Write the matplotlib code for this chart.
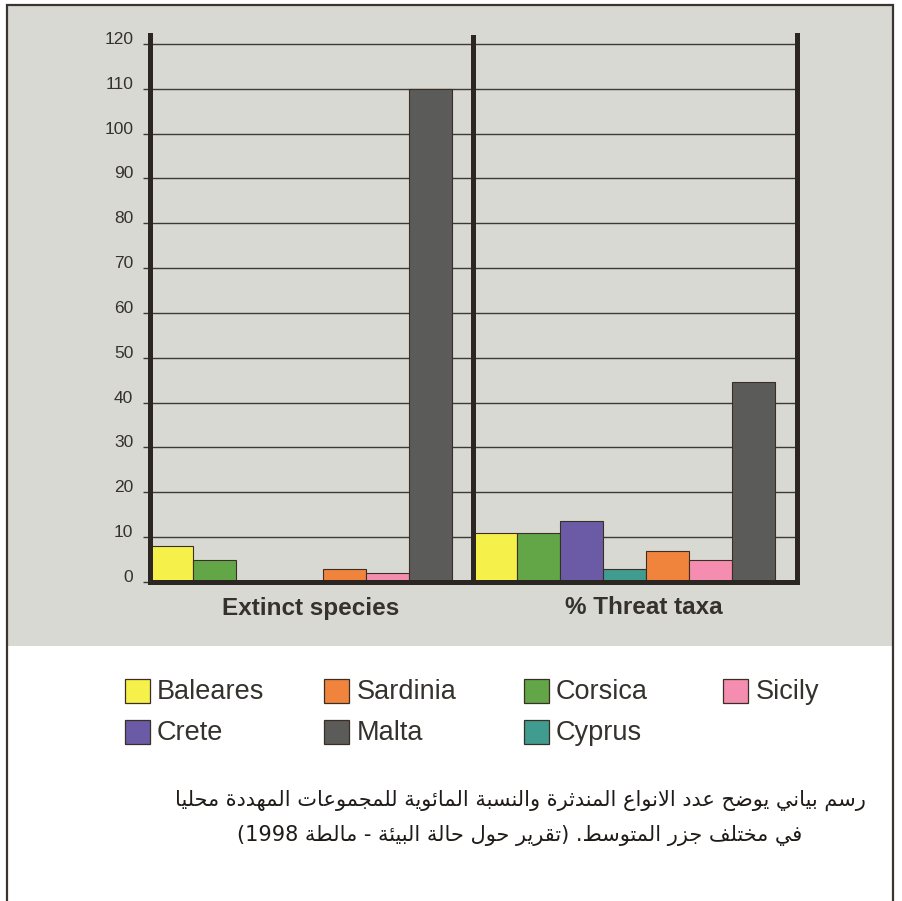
import re
import matplotlib
matplotlib.use("Agg")
import matplotlib.pyplot as plt
import matplotlib.transforms as mtransforms
from matplotlib.patches import Rectangle

# ---------------- data ----------------
groups = ["Extinct species", "% Threat taxa"]
islands = ["Baleares", "Corsica", "Crete", "Cyprus", "Sardinia", "Sicily", "Malta"]
extinct = [8, 5, 0, 0, 3, 2, 110]
threat = [11, 11, 13.5, 3, 7, 5, 44.5]
yticks = list(range(0, 121, 10))
legend_rows = [["Baleares", "Sardinia", "Corsica", "Sicily"],
               ["Crete", "Malta", "Cyprus"]]
caption_lines = [
    "رسم بياني يوضح عدد الانواع المندثرة والنسبة المائوية للمجموعات المهددة محليا",
    "في مختلف جزر المتوسط. (تقرير حول حالة البيئة - مالطة 1998)",
]

# ---------------- styles ----------------
colors = {
    "Baleares": "#f6f14a",
    "Corsica": "#62a648",
    "Crete": "#6b5ba6",
    "Cyprus": "#3f9c8e",
    "Sardinia": "#f0843c",
    "Sicily": "#f48db0",
    "Malta": "#5b5b59",
}
PANEL = "#d9d9d3"
DARK = "#2b2622"
TEXT = "#35312d"
LATIN = ["Liberation Sans", "DejaVu Sans"]

W, H = 903, 901


def fx(px):
    return px / W


def fy(py):
    return 1 - py / H


# ------------- minimal Arabic shaping (matplotlib has no shaper) -------------
_AR = {
    "ء": (0xFE80, 1), "آ": (0xFE81, 2), "أ": (0xFE83, 2), "ؤ": (0xFE85, 2),
    "إ": (0xFE87, 2), "ئ": (0xFE89, 4), "ا": (0xFE8D, 2), "ب": (0xFE8F, 4),
    "ة": (0xFE93, 2), "ت": (0xFE95, 4), "ث": (0xFE99, 4), "ج": (0xFE9D, 4),
    "ح": (0xFEA1, 4), "خ": (0xFEA5, 4), "د": (0xFEA9, 2), "ذ": (0xFEAB, 2),
    "ر": (0xFEAD, 2), "ز": (0xFEAF, 2), "س": (0xFEB1, 4), "ش": (0xFEB5, 4),
    "ص": (0xFEB9, 4), "ض": (0xFEBD, 4), "ط": (0xFEC1, 4), "ظ": (0xFEC5, 4),
    "ع": (0xFEC9, 4), "غ": (0xFECD, 4), "ف": (0xFED1, 4), "ق": (0xFED5, 4),
    "ك": (0xFED9, 4), "ل": (0xFEDD, 4), "م": (0xFEE1, 4), "ن": (0xFEE5, 4),
    "ه": (0xFEE9, 4), "و": (0xFEED, 2), "ى": (0xFEEF, 2), "ي": (0xFEF1, 4),
}
_LAMALEF = {"آ": (0xFEF5, 0xFEF6), "أ": (0xFEF7, 0xFEF8),
            "إ": (0xFEF9, 0xFEFA), "ا": (0xFEFB, 0xFEFC)}


def _shape(s):
    out = []
    prev_join = False
    i, n = 0, len(s)
    while i < n:
        c = s[i]
        if c not in _AR:
            out.append(c)
            prev_join = False
            i += 1
            continue
        if c == "ل" and i + 1 < n and s[i + 1] in _LAMALEF:
            iso, fin = _LAMALEF[s[i + 1]]
            out.append(chr(fin if prev_join else iso))
            prev_join = False
            i += 2
            continue
        base, k = _AR[c]
        nxt = s[i + 1] if i + 1 < n else ""
        can_next = k == 4 and nxt in _AR
        if k == 1:
            form = 0
        elif prev_join and can_next:
            form = 3
        elif prev_join:
            form = 1
        elif can_next:
            form = 2
        else:
            form = 0
        out.append(chr(base + form))
        prev_join = k == 4
        i += 1
    return "".join(out)


def rtl(s):
    toks = re.findall(r"\d+|.", _shape(s))
    res = []
    for t in reversed(toks):
        if t == "(":
            t = ")"
        elif t == ")":
            t = "("
        res.append(t)
    return "".join(res)


# ---------------- figure ----------------
fig = plt.figure(figsize=(W / 100, H / 100), dpi=100)
fig.patch.set_facecolor("white")

# grey chart panel and outer frame
fig.add_artist(Rectangle((fx(8), fy(646)), fx(892) - fx(8), fy(6) - fy(646),
                         transform=fig.transFigure, facecolor=PANEL,
                         edgecolor="none", zorder=0))
fig.add_artist(Rectangle((fx(7), -0.02), fx(893) - fx(7), fy(5) + 0.02,
                         transform=fig.transFigure, facecolor="none",
                         edgecolor="#3a3531", lw=1.6, zorder=5))

ax = fig.add_axes([fx(150), fy(582), fx(797) - fx(150), fy(35) - fy(582)])
ax.set_facecolor("none")
ax.set_xlim(0, 15)
ax.set_ylim(0, 122)

group_start = [0.0, 7.5]
series = [extinct, threat]
for g, vals in enumerate(series):
    for i, (isl, v) in enumerate(zip(islands, vals)):
        ax.bar(group_start[g] + i + 0.5, v, width=1.0, color=colors[isl],
               edgecolor="#3b2e25", linewidth=0.8, zorder=2)

ax.set_axisbelow(True)
ax.set_yticks(yticks)
ax.set_yticklabels([str(t) for t in yticks], fontfamily=LATIN, fontsize=12.5,
                   color=TEXT, va="baseline")
ax.yaxis.grid(True, color="#3d3935", linewidth=1.0)
ax.tick_params(axis="y", length=5, width=1.0, color="#3d3935", pad=7)
ax.set_xticks([])

for side in ["left", "bottom", "right"]:
    ax.spines[side].set_linewidth(3.6)
    ax.spines[side].set_color(DARK)
    ax.spines[side].set_capstyle("projecting")
ax.spines["top"].set_visible(False)
ax.axvline(7.5, color=DARK, linewidth=3.6, zorder=3)

label_x = [3.72, 11.44]
trans = mtransforms.blended_transform_factory(ax.transData, ax.transAxes)
for gx, name in zip(label_x, groups):
    ax.text(gx, (582 - 608) / (582 - 35), name, transform=trans, ha="center",
            va="center", fontsize=17.5, fontweight="bold", color=TEXT,
            fontfamily=LATIN)

# ---------------- legend ----------------
for r, row in enumerate(legend_rows):
    for c, isl in enumerate(row):
        x0 = 125 + 199.5 * c
        y0 = 679 + 41 * r
        fig.add_artist(Rectangle((fx(x0), fy(y0 + 24)), 25 / W, 24 / H,
                                 transform=fig.transFigure,
                                 facecolor=colors[isl], edgecolor="#3b2e25",
                                 lw=0.9, zorder=6))
        fig.text(fx(x0 + 32), fy(y0 + 13), isl, ha="left", va="center",
                 fontsize=19.5, color=TEXT, fontfamily=LATIN)

# ---------------- caption ----------------
for k, line in enumerate(caption_lines):
    fig.text(fx(520), fy(800 + 36 * k), rtl(line), ha="center", va="center",
             fontsize=15, color="#1f1b18", fontfamily=["DejaVu Sans"])

fig.savefig("out.png", dpi=100)
